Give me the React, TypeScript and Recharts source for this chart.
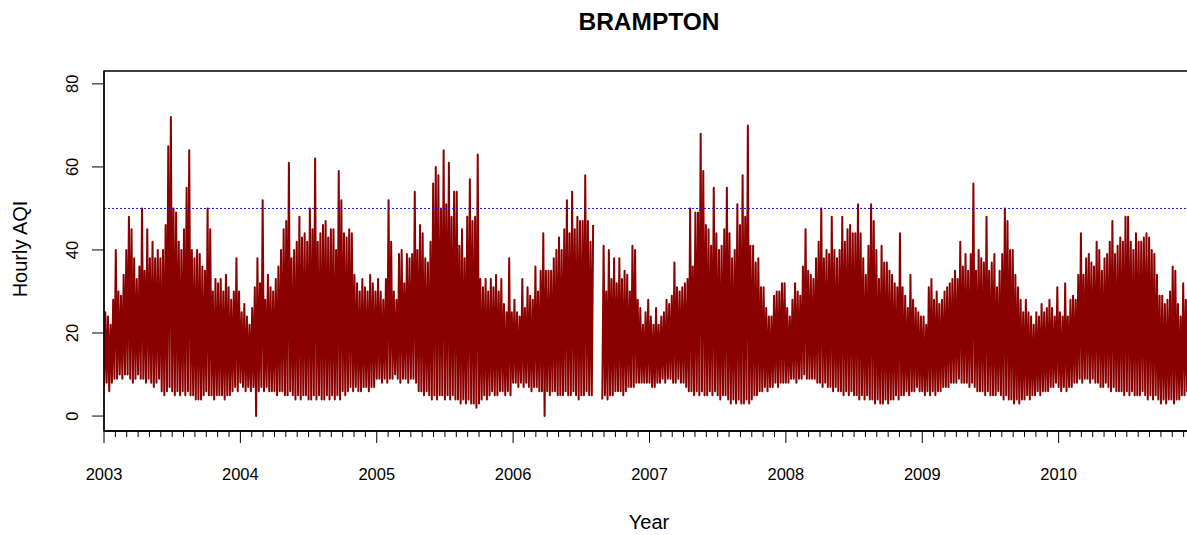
import { ComposedChart, Line, ReferenceArea, ReferenceLine, XAxis, YAxis } from 'recharts';

// weekly maxima of the hourly AQI (52 weeks per year)
const hi2003 = [25, 24, 22, 28, 40, 30, 29, 34, 40, 48, 45, 38, 33,
  36, 50, 35, 45, 38, 42, 38, 40, 38, 40, 46, 65, 72,
  50, 49, 42, 40, 45, 55, 64, 40, 38, 40, 39, 36, 35,
  50, 45, 30, 33, 32, 33, 30, 34, 31, 28, 30, 38, 30];
const hi2004 = [25, 27, 24, 22, 26, 31, 38, 32, 52, 28, 34, 31, 30,
  33, 36, 40, 45, 47, 61, 38, 40, 42, 48, 43, 44, 42,
  50, 45, 62, 42, 44, 46, 47, 43, 45, 45, 40, 59, 52,
  44, 43, 45, 44, 34, 32, 30, 33, 31, 30, 34, 32, 30];
const hi2005 = [33, 30, 28, 33, 52, 42, 30, 28, 39, 40, 32, 39, 38,
  39, 54, 40, 46, 44, 38, 37, 42, 56, 60, 58, 50, 64,
  51, 61, 48, 54, 54, 41, 45, 38, 48, 57, 47, 48, 63,
  33, 31, 33, 30, 33, 31, 34, 30, 33, 27, 25, 38, 25];
const hi2006 = [28, 25, 24, 33, 26, 31, 29, 28, 36, 30, 35, 44, 35,
  35, 35, 38, 40, 43, 40, 45, 52, 44, 54, 45, 48, 47,
  47, 58, 47, 42, 46, null, null, null, 41, 30, 40, 33, 38,
  32, 38, 33, 35, 34, 30, 41, 40, 28, 26, 22, 25, 28];
const hi2007 = [24, 22, 26, 22, 24, 25, 28, 27, 29, 37, 31, 30, 31,
  32, 33, 50, 36, 49, 49, 68, 59, 46, 45, 41, 55, 44,
  40, 41, 45, 55, 44, 38, 40, 51, 46, 58, 48, 70, 41,
  41, 37, 38, 31, 31, 26, 24, 24, 29, 30, 30, 32, 32];
const hi2008 = [26, 24, 28, 32, 30, 29, 36, 45, 35, 34, 33, 38, 42,
  50, 38, 40, 39, 48, 40, 38, 40, 48, 42, 45, 46, 44,
  44, 51, 44, 38, 34, 41, 51, 47, 40, 33, 41, 37, 37,
  35, 34, 32, 31, 44, 31, 29, 26, 34, 28, 26, 25, 24];
const hi2009 = [24, 22, 31, 33, 28, 30, 27, 28, 30, 31, 32, 33, 35,
  33, 42, 36, 39, 35, 39, 56, 35, 40, 38, 37, 48, 35,
  37, 39, 31, 35, 39, 50, 47, 40, 40, 34, 31, 28, 25,
  28, 25, 24, 22, 25, 24, 27, 25, 26, 28, 26, 24, 31];
const hi2010 = [25, 24, 32, 24, 28, 29, 28, 34, 44, 34, 38, 39, 37,
  36, 42, 40, 35, 38, 39, 42, 47, 39, 41, 43, 42, 48,
  48, 42, 40, 44, 42, 42, 43, 44, 43, 40, 39, 34, 29,
  29, 27, 28, 30, 36, 35, 27, 24, 32, 28, 22, 25, 22];

// weekly minima
const lo2003 = [7, 8, 6, 8, 9, 9, 10, 9, 10, 10, 9, 8, 9,
  10, 9, 9, 8, 9, 8, 7, 8, 9, 6, 5, 6, 7,
  6, 5, 6, 5, 6, 5, 6, 5, 5, 4, 4, 4, 5,
  6, 5, 5, 4, 5, 5, 5, 4, 5, 5, 6, 7, 6];
const lo2004 = [8, 7, 6, 7, 6, 7, 0, 6, 7, 6, 7, 6, 6,
  6, 5, 6, 6, 5, 5, 6, 5, 4, 5, 4, 5, 5,
  4, 4, 5, 4, 5, 4, 4, 5, 4, 5, 4, 5, 4,
  6, 5, 6, 7, 6, 7, 6, 6, 7, 7, 6, 7, 7];
const lo2005 = [9, 9, 8, 9, 8, 9, 9, 10, 9, 8, 9, 9, 8,
  9, 9, 8, 6, 6, 5, 6, 5, 4, 5, 4, 5, 5,
  4, 5, 4, 5, 4, 4, 3, 4, 3, 4, 3, 3, 2,
  3, 4, 5, 4, 5, 6, 5, 5, 6, 6, 5, 6, 5];
const lo2006 = [8, 8, 7, 8, 7, 8, 7, 6, 7, 7, 6, 6, 0,
  6, 5, 6, 6, 5, 5, 5, 6, 5, 5, 6, 5, 4,
  5, 5, 6, 5, 5, null, null, null, 4, 5, 4, 5, 5,
  6, 6, 6, 5, 6, 7, 7, 7, 8, 8, 8, 8, 8];
const lo2007 = [8, 7, 7, 8, 8, 9, 8, 9, 9, 8, 8, 9, 8,
  8, 7, 6, 6, 5, 6, 5, 6, 5, 5, 6, 5, 6,
  5, 4, 5, 5, 4, 3, 4, 3, 4, 3, 3, 4, 3,
  4, 5, 5, 6, 6, 7, 6, 7, 7, 8, 7, 8, 8];
const lo2008 = [8, 8, 9, 9, 8, 9, 9, 10, 9, 9, 9, 9, 8,
  8, 7, 8, 7, 7, 6, 7, 6, 6, 5, 6, 5, 6,
  5, 5, 4, 5, 4, 5, 4, 4, 3, 4, 3, 3, 4,
  3, 4, 4, 5, 4, 5, 5, 6, 5, 6, 6, 7, 6];
const lo2009 = [6, 5, 6, 5, 6, 5, 6, 6, 7, 7, 7, 8, 8,
  8, 9, 8, 8, 8, 7, 8, 7, 6, 6, 6, 5, 6,
  5, 5, 5, 6, 5, 4, 5, 4, 4, 3, 4, 3, 4,
  4, 5, 4, 5, 5, 6, 5, 6, 6, 6, 7, 7, 8];
const lo2010 = [7, 6, 7, 6, 7, 7, 8, 8, 9, 8, 9, 9, 8,
  9, 8, 8, 7, 7, 8, 7, 6, 7, 6, 6, 6, 5,
  6, 5, 6, 5, 5, 5, 6, 5, 4, 5, 4, 5, 4,
  3, 4, 3, 4, 4, 3, 4, 4, 5, 5, 6, 5, 6];

const years = [2003, 2004, 2005, 2006, 2007, 2008, 2009, 2010];
const highs = [hi2003, hi2004, hi2005, hi2006, hi2007, hi2008, hi2009, hi2010];
const lows = [lo2003, lo2004, lo2005, lo2006, lo2007, lo2008, lo2009, lo2010];
const yTicks = [0, 20, 40, 60, 80];

const data: { t: number; v: number | null }[] = [];
years.forEach((yr, i) => {
  for (let w = 0; w < 52; w++) {
    data.push({ t: yr + w / 52, v: lows[i][w] });
    data.push({ t: yr + (w + 0.5) / 52, v: highs[i][w] });
  }
});

const monthTicks: number[] = [];
for (let m = 0; m < 96; m++) monthTicks.push(2003 + m / 12);

const XTick = (props: any) => {
  const { x, y, payload } = props;
  const v = payload.value;
  const yr = Math.round(v);
  const major = Math.abs(v - yr) < 1e-6;
  return (
    <g>
      <line x1={x} x2={x} y1={y} y2={y + (major ? 12 : 6)} stroke='#000' strokeWidth={1} />
      {major && (
        <text x={x} y={y + 49} textAnchor='middle' fontSize={16.5} fill='#000'>
          {yr}
        </text>
      )}
    </g>
  );
};

const YTick = (props: any) => {
  const { x, y, payload } = props;
  return (
    <g>
      <line x1={x - 12} x2={x} y1={y} y2={y} stroke='#000' strokeWidth={1} />
      <text transform={`translate(${x - 26},${y}) rotate(-90)`} textAnchor='middle' fontSize={16.5} fill='#000'>
        {payload.value}
      </text>
    </g>
  );
};

const App = () => (
  <div
    style={{
      position: 'absolute',
      left: 0,
      top: 0,
      width: 1187,
      height: 535,
      overflow: 'hidden',
      background: '#fff',
      fontFamily: '"Liberation Sans", Arial, sans-serif',
    }}
  >
    <ComposedChart width={1200} height={535} data={data} margin={{ top: 71, right: 5, left: 0, bottom: 0 }}>
      <XAxis
        dataKey='t'
        type='number'
        domain={[2003, 2011]}
        allowDataOverflow
        ticks={monthTicks}
        interval={0}
        tickLine={false}
        tickSize={0}
        tickMargin={0}
        tick={<XTick />}
        axisLine={{ stroke: '#000', strokeWidth: 1.3 }}
        height={104}
      />
      <YAxis
        type='number'
        domain={[-3.6, 83.1]}
        allowDataOverflow
        ticks={yTicks}
        interval={0}
        tickLine={false}
        tickSize={0}
        tickMargin={0}
        tick={<YTick />}
        axisLine={{ stroke: '#000', strokeWidth: 1.3 }}
        width={104}
      />
      <Line
        type='linear'
        dataKey='v'
        stroke='#8b0000'
        strokeWidth={2}
        strokeLinejoin='round'
        dot={false}
        activeDot={false}
        connectNulls={false}
        isAnimationActive={false}
      />
      <ReferenceLine y={50} stroke='#1010d0' strokeDasharray='2 2' strokeWidth={1} />
      <ReferenceArea x1={2003} x2={2011} y1={-3.6} y2={83.1} fill='none' stroke='#000' strokeWidth={1.3} ifOverflow='visible' />
    </ComposedChart>
    <svg width={1187} height={535} style={{ position: 'absolute', left: 0, top: 0, pointerEvents: 'none' }}>
      <text x={649} y={30} textAnchor='middle' fontSize={24.5} fontWeight='bold' fill='#000'>
        BRAMPTON
      </text>
      <text x={649} y={529} textAnchor='middle' fontSize={20} fill='#000'>
        Year
      </text>
      <text transform='translate(27,249) rotate(-90)' textAnchor='middle' fontSize={20} fill='#000'>
        Hourly AQI
      </text>
    </svg>
  </div>
);

export default App;
